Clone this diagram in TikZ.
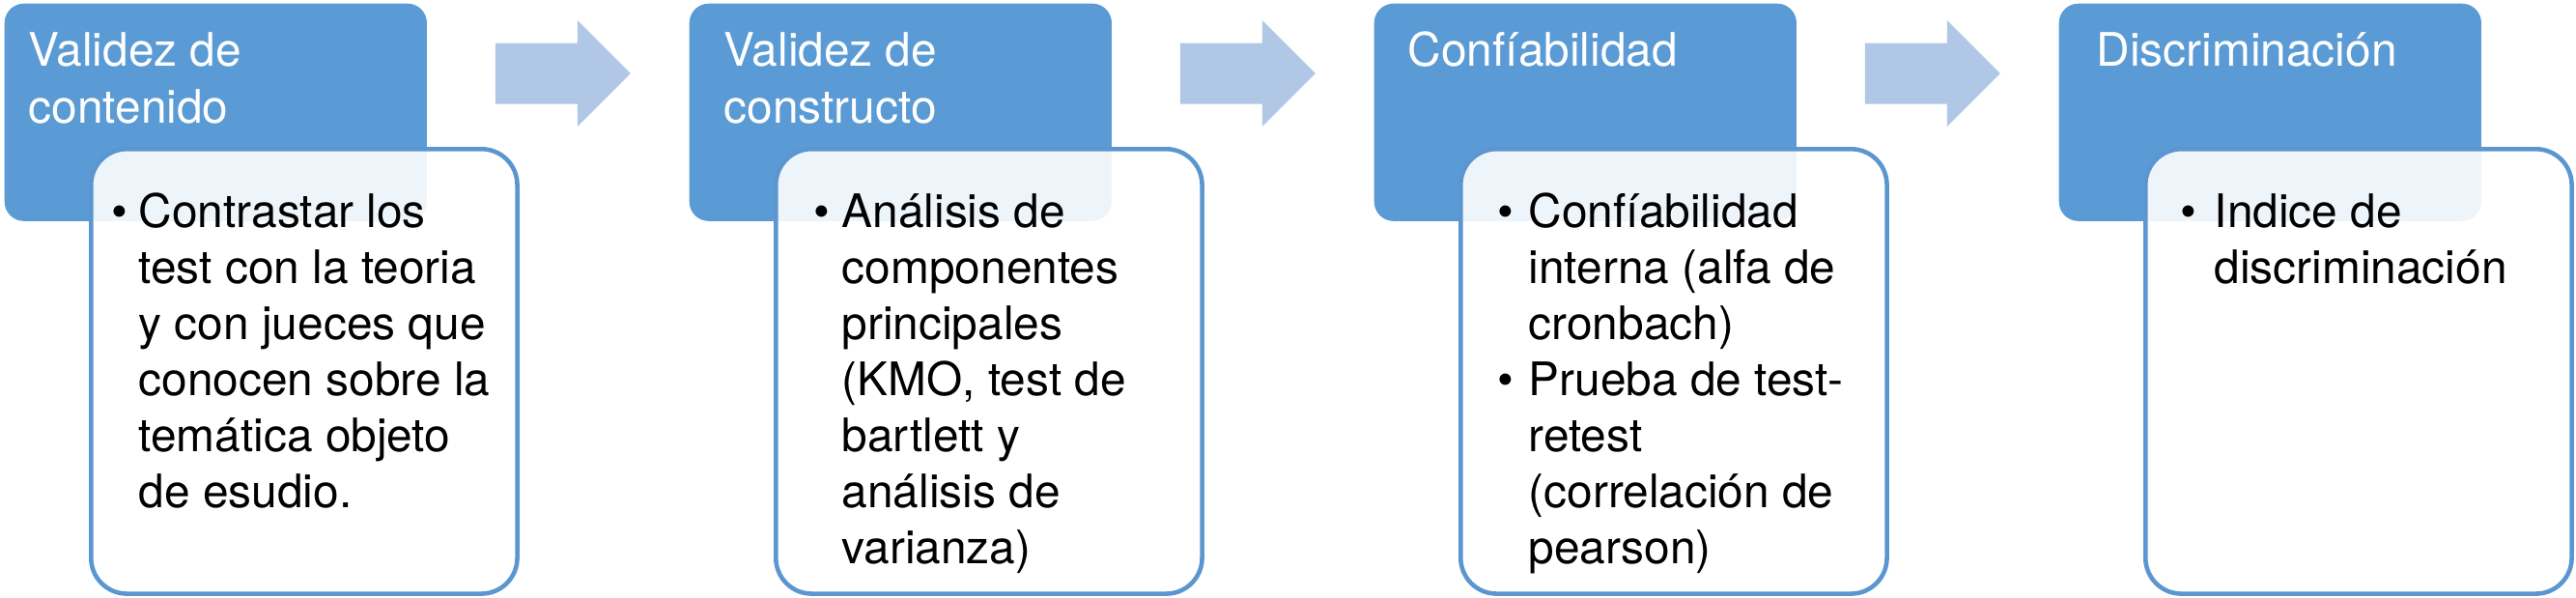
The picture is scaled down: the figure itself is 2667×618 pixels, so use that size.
\documentclass[tikz,border=0pt]{standalone}
\usepackage{fontspec}
\setmainfont{TeX Gyre Heros}
\usetikzlibrary{calc}
\definecolor{boxblue}{RGB}{91,155,213}
\definecolor{arrowblue}{RGB}{177,199,230}
\definecolor{edgeblue}{RGB}{91,150,208}
\newcommand\titlefont{\fontsize{13.6pt}{17pt}\selectfont}
\newcommand\bodyfont{\fontsize{13.6pt}{16.5pt}\selectfont}
\tikzset{
  bluebox/.style={fill=boxblue, rounded corners=0.2cm, minimum width=4.37cm, minimum height=2.25cm, inner sep=0pt, anchor=north west},
  whitebox/.style={draw=edgeblue, line width=1.3pt, fill=white, fill opacity=0.9, rounded corners=0.37cm, minimum width=4.41cm, minimum height=4.6cm, inner sep=0pt, anchor=north west},
  titletext/.style={text=white, inner sep=0pt, anchor=base west},
  bodytext/.style={text=black, inner sep=0pt, anchor=base west},
  bulletmark/.style={text=black, inner sep=0pt, anchor=base west, font=\bodyfont},
  flowarrow/.style={fill=arrowblue},
}
\begin{document}
\begin{tikzpicture}[x=0.01cm, y=-0.01cm]
\useasboundingbox (0,0) rectangle (2667,618);
% header boxes
\node[bluebox] (b1) at (4,3) {};
\node[bluebox] (b2) at (713,3) {};
\node[bluebox] (b3) at (1422,3) {};
\node[bluebox] (b4) at (2131,3) {};
% content boxes
\node[whitebox] (w1) at (92,152) {};
\node[whitebox] (w2) at (801,152) {};
\node[whitebox] (w3) at (1510,152) {};
\node[whitebox] (w4) at (2219,152) {};
% block arrows
\path ($(b1.north east)!0.5!(b2.north west)$) ++(5,73) coordinate (a1);
\path ($(b2.north east)!0.5!(b3.north west)$) ++(5,73) coordinate (a2);
\path ($(b3.north east)!0.5!(b4.north west)$) ++(5,73) coordinate (a3);
\foreach \a in {a1,a2,a3}{
  \fill[flowarrow] (\a) ++(-70,-31.5) -- ++(85,0) -- ++(0,-23.5) -- ++(55,55) -- ++(-55,55) -- ++(0,-23.5) -- ++(-85,0) -- cycle;
}
% titles
\node[titletext] (h1) at (29,68) {\parbox[t]{4.2cm}{\titlefont\raggedright Validez de\\contenido}};
\node[titletext] (h2) at (749,68) {\parbox[t]{4.2cm}{\titlefont\raggedright Validez de\\constructo}};
\node[titletext] (h3) at (1457,68) {\parbox[t]{4.2cm}{\titlefont\raggedright Confíabilidad}};
\node[titletext] (h4) at (2170,68) {\parbox[t]{4.2cm}{\titlefont\raggedright Discriminación}};
% bullets
\node[bulletmark] (p1) at (115,235) {•};
\node[bulletmark] (p2) at (842,235) {•};
\node[bulletmark] (p3) at (1550,235) {•};
\node[bulletmark] (p3b) at (1550,409) {•};
\node[bulletmark] (p4) at (2257,235) {•};
% body texts
\node[bodytext] (c1) at (143,235) {\parbox[t]{4.3cm}{\bodyfont\raggedright Contrastar los\\test con la teoria\\y con jueces que\\conocen sobre la\\temática objeto\\de esudio.}};
\node[bodytext] (c2) at (871,235) {\parbox[t]{4.3cm}{\bodyfont\raggedright Análisis de\\componentes\\principales\\(KMO, test de\\bartlett y\\análisis de\\varianza)}};
\node[bodytext] (c3) at (1582,235) {\parbox[t]{4.3cm}{\bodyfont\raggedright Confíabilidad\\interna (alfa de\\cronbach)}};
\node[bodytext] (c3b) at (1582,409) {\parbox[t]{4.3cm}{\bodyfont\raggedright Prueba de test-\\retest\\(correlación de\\pearson)}};
\node[bodytext] (c4) at (2292,235) {\parbox[t]{4.3cm}{\bodyfont\raggedright Indice de\\discriminación}};
\end{tikzpicture}
\end{document}
